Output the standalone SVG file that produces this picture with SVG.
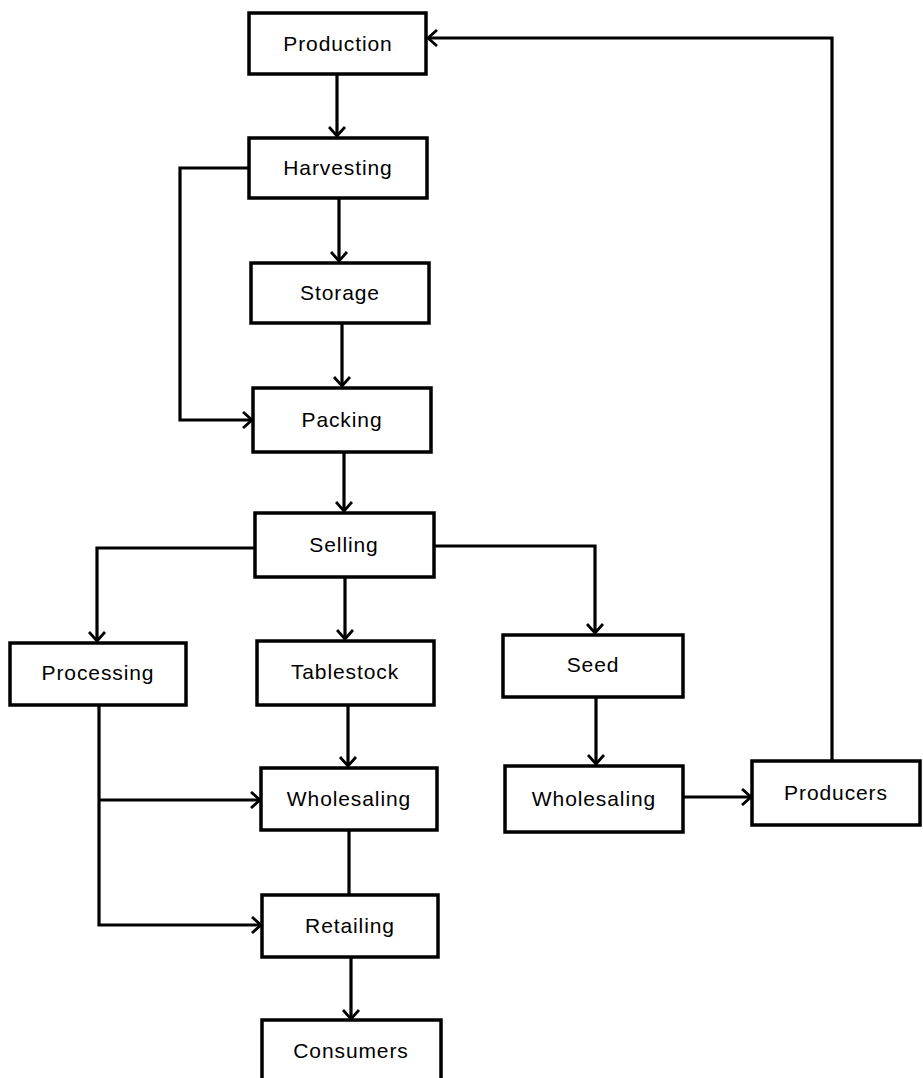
<svg xmlns="http://www.w3.org/2000/svg" width="923" height="1078" viewBox="0 0 923 1078">
<style>
.box{fill:#fff;stroke:#000;stroke-width:3.5}
.lbl{font-family:"Liberation Sans",Arial,sans-serif;font-size:21px;fill:#000;text-anchor:middle;letter-spacing:0.9px}
.con{fill:none;stroke:#000;stroke-width:3.2}
</style>
<defs>
<marker id="arr" viewBox="0 0 11 18" refX="10" refY="9" markerWidth="11" markerHeight="18" markerUnits="userSpaceOnUse" orient="auto">
<path d="M1,1 L10,9 L1,17" fill="none" stroke="#000" stroke-width="2.8"/>
</marker>
</defs>
<rect width="923" height="1078" fill="#fff"/>
<g id="connectors">
<path class="con" d="M337,74 V136" marker-end="url(#arr)"/>
<path class="con" d="M832,760 V38 H428" marker-end="url(#arr)"/>
<path class="con" d="M249,168 H180 V420 H252" marker-end="url(#arr)"/>
<path class="con" d="M339,198 V261" marker-end="url(#arr)"/>
<path class="con" d="M342,323 V386" marker-end="url(#arr)"/>
<path class="con" d="M344,452 V511" marker-end="url(#arr)"/>
<path class="con" d="M255,548 H97 V641" marker-end="url(#arr)"/>
<path class="con" d="M345,577 V639" marker-end="url(#arr)"/>
<path class="con" d="M434,546 H595 V633" marker-end="url(#arr)"/>
<path class="con" d="M596,697 V764" marker-end="url(#arr)"/>
<path class="con" d="M683,797 H751" marker-end="url(#arr)"/>
<path class="con" d="M348,705 V766" marker-end="url(#arr)"/>
<path class="con" d="M99,705 V925 H261" marker-end="url(#arr)"/>
<path class="con" d="M99,800 H260" marker-end="url(#arr)"/>
<path class="con" d="M349,830 V894"/>
<path class="con" d="M351,957 V1019" marker-end="url(#arr)"/>
</g>
<g id="production"><rect class="box" x="249" y="13" width="177" height="61"/><text class="lbl" x="338" y="51">Production</text></g>
<g id="harvesting"><rect class="box" x="249" y="138" width="178" height="60"/><text class="lbl" x="338" y="175">Harvesting</text></g>
<g id="storage"><rect class="box" x="251" y="263" width="178" height="60"/><text class="lbl" x="340" y="300">Storage</text></g>
<g id="packing"><rect class="box" x="253" y="388" width="178" height="64"/><text class="lbl" x="342" y="427">Packing</text></g>
<g id="selling"><rect class="box" x="255" y="513" width="179" height="64"/><text class="lbl" x="344" y="552">Selling</text></g>
<g id="processing"><rect class="box" x="10" y="643" width="176" height="62"/><text class="lbl" x="98" y="680">Processing</text></g>
<g id="tablestock"><rect class="box" x="257" y="641" width="177" height="64"/><text class="lbl" x="345" y="679">Tablestock</text></g>
<g id="seed"><rect class="box" x="503" y="635" width="180" height="62"/><text class="lbl" x="593" y="672">Seed</text></g>
<g id="wholesaling1"><rect class="box" x="261" y="768" width="176" height="62"/><text class="lbl" x="349" y="806">Wholesaling</text></g>
<g id="wholesaling2"><rect class="box" x="505" y="766" width="178" height="66"/><text class="lbl" x="594" y="806">Wholesaling</text></g>
<g id="producers"><rect class="box" x="752" y="761" width="168" height="64"/><text class="lbl" x="836" y="800">Producers</text></g>
<g id="retailing"><rect class="box" x="262" y="895" width="176" height="62"/><text class="lbl" x="350" y="933">Retailing</text></g>
<g id="consumers"><rect class="box" x="262" y="1020" width="179" height="70"/><text class="lbl" x="351" y="1058">Consumers</text></g>
</svg>
